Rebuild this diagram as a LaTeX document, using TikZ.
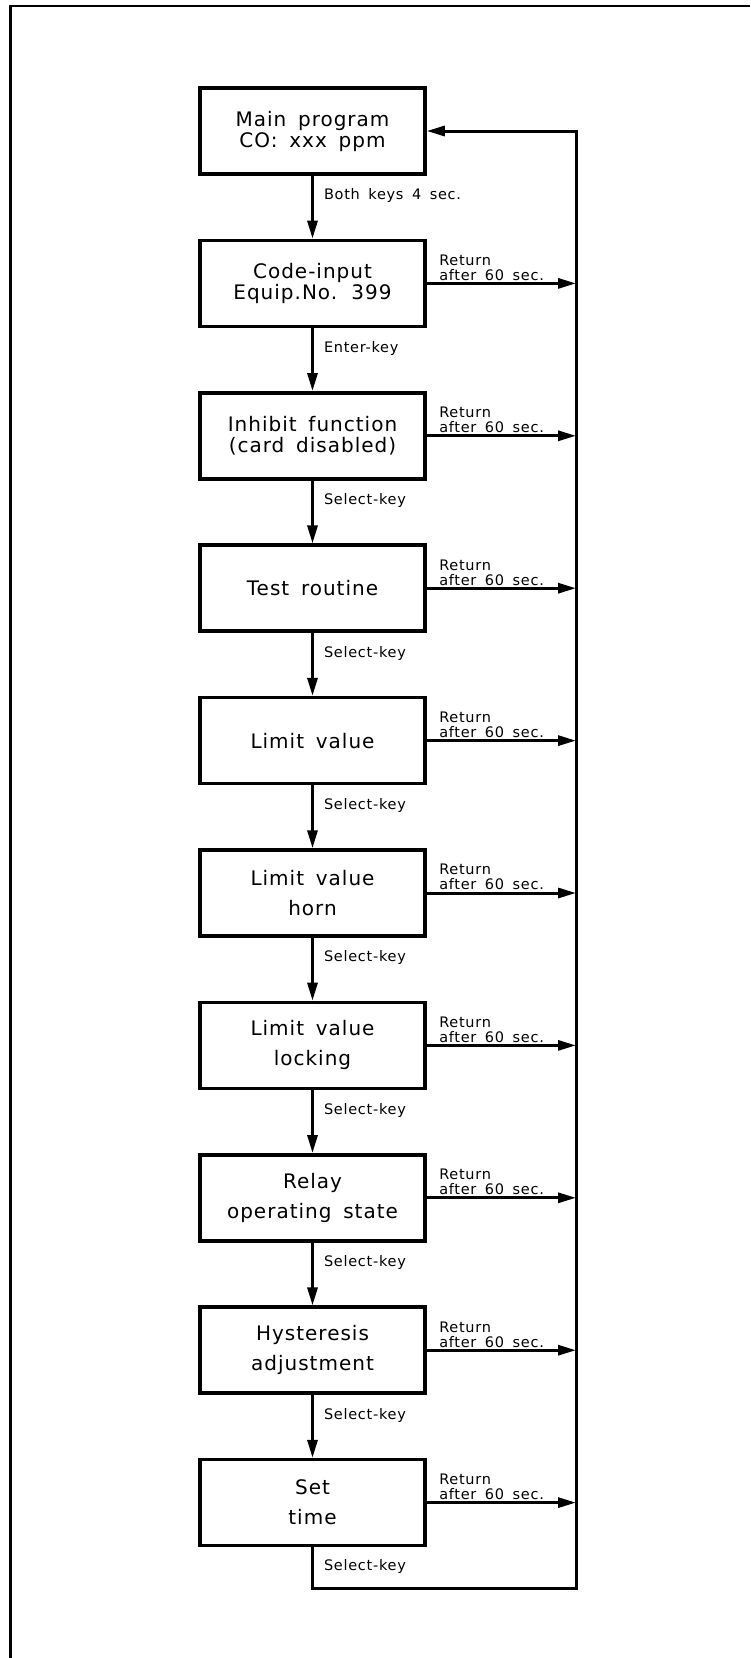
\documentclass[tikz,border=0pt]{standalone}
\usepackage{fontspec}
\newfontfamily\cadfont[LetterSpace=5,WordSpace=1.6]{DejaVu Sans}
\usetikzlibrary{arrows.meta}

\begin{document}
\begin{tikzpicture}[x=1pt,y=-1pt,
    box/.style={draw, line width=3.5pt, minimum width=225pt, minimum height=86pt,
      align=center, inner sep=0pt, font=\cadfont\fontsize{20}{21}\selectfont},
    arr/.style={line width=3pt, -{Triangle[length=18pt,width=10pt]}},
    lbl/.style={font=\cadfont\fontsize{14.5}{15}\selectfont, inner sep=0pt},
    ret/.style={font=\cadfont\fontsize{14.5}{15}\selectfont, align=left, inner sep=0pt}]
    \useasboundingbox (0,0) rectangle (750,1658);
    \draw[line width=2.5pt] (10.5,1658) -- (10.5,6) -- (750,6);
    % the ten steps
    \foreach \i/\t in {1/{Main program\\CO: xxx ppm},
                       2/{Code-input\\Equip.No. 399},
                       3/{Inhibit function\\(card disabled)},
                       4/{Test routine},
                       5/{Limit value},
                       6/{Limit value\\[9pt]horn},
                       7/{Limit value\\[9pt]locking},
                       8/{Relay\\[9pt]operating state},
                       9/{Hysteresis\\[9pt]adjustment},
                       10/{Set\\[9pt]time}}
        \node[box] (b\i) at (312.5,{131+(\i-1)*152.4}) {\t};
    \coordinate (corner) at (576,1588);
    % key presses
    \foreach \i/\j/\t in {1/2/Both keys 4 sec., 2/3/Enter-key, 3/4/Select-key,
                          4/5/Select-key, 5/6/Select-key, 6/7/Select-key,
                          7/8/Select-key, 8/9/Select-key, 9/10/Select-key}
        \draw[arr] (b\i) -- node[lbl, pos=0.32, anchor=west, xshift=10pt] {\t} (b\j);
    % timeouts
    \foreach \i in {2,...,10}
        \draw[arr] (b\i.east) -- node[ret, pos=0, anchor=south west, xshift=11pt, yshift=1.5pt]
            {Return\\after 60 sec.} (b\i.east -| corner);
    \draw[arr] (b10.south) |- node[lbl, pos=0.2, anchor=west, xshift=10pt, yshift=-3pt] {Select-key}
        (corner) |- (b1.east);
\end{tikzpicture}
\end{document}
